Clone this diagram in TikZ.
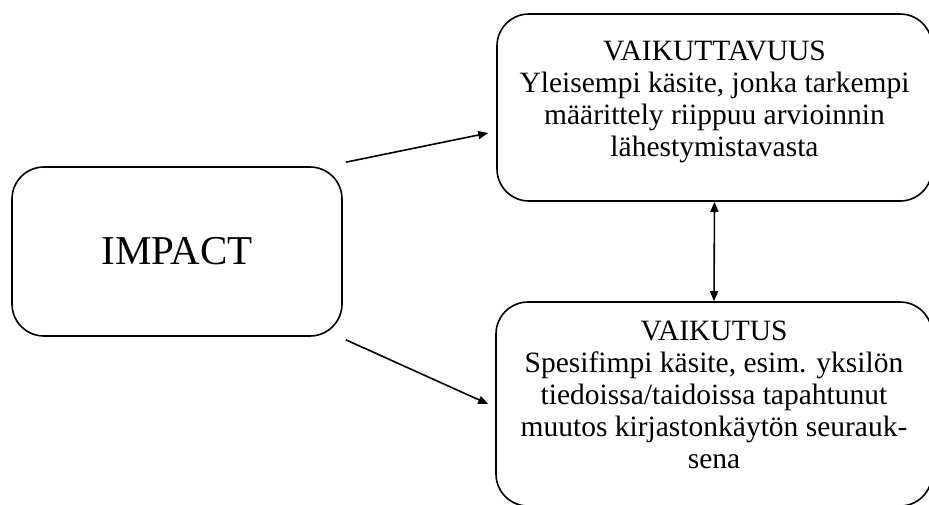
\documentclass[tikz,border=0pt]{standalone}
\usepackage{fontspec}
\setmainfont{Liberation Serif}
\usetikzlibrary{arrows.meta,positioning}
\newcommand{\lowstrut}{\rule[-18pt]{0pt}{18pt}}
\tikzset{box/.style={draw=black,rounded corners=32pt,line width=1.6pt,align=center,inner sep=0pt,font=\fontsize{29.5}{32}\selectfont},arr/.style={-{Triangle[length=10pt,width=8pt]},line width=1.6pt},biarr/.style={arr,{Triangle[length=10pt,width=8pt]}-{Triangle[length=10pt,width=8pt]}}}

\begin{document}
\begin{tikzpicture}[x=1pt,y=-1pt]
\useasboundingbox (0,0) rectangle (929,504);
\node[box,minimum width=330pt,minimum height=169pt,font=\fontsize{41}{44}\selectfont] (impact) at (177,251.5) {IMPACT};
\node[box,minimum width=435pt,minimum height=187pt] (vaikuttavuus) at (714.5,107.5) {VAIKUTTAVUUS\\Yleisempi käsite, jonka tarkempi\\määrittely riippuu arvioinnin\\lähestymistavasta\lowstrut};
\node[box,minimum width=436pt,minimum height=204pt] (vaikutus) at (714,404) {VAIKUTUS\\Spesifimpi käsite, esim. yksilön\\tiedoissa/taidoissa tapahtunut\\muutos kirjastonkäytön seurauk-\\sena\lowstrut};
\draw[arr] ([shift={(3,-4)}]impact.north east) -- ([shift={(-8,25.5)}]vaikuttavuus.west);
\draw[arr] ([shift={(3,3)}]impact.south east) -- ([shift={(-7,0)}]vaikutus.west);
\draw[biarr] (vaikuttavuus.south) -- (vaikutus.north);
\end{tikzpicture}
\end{document}
